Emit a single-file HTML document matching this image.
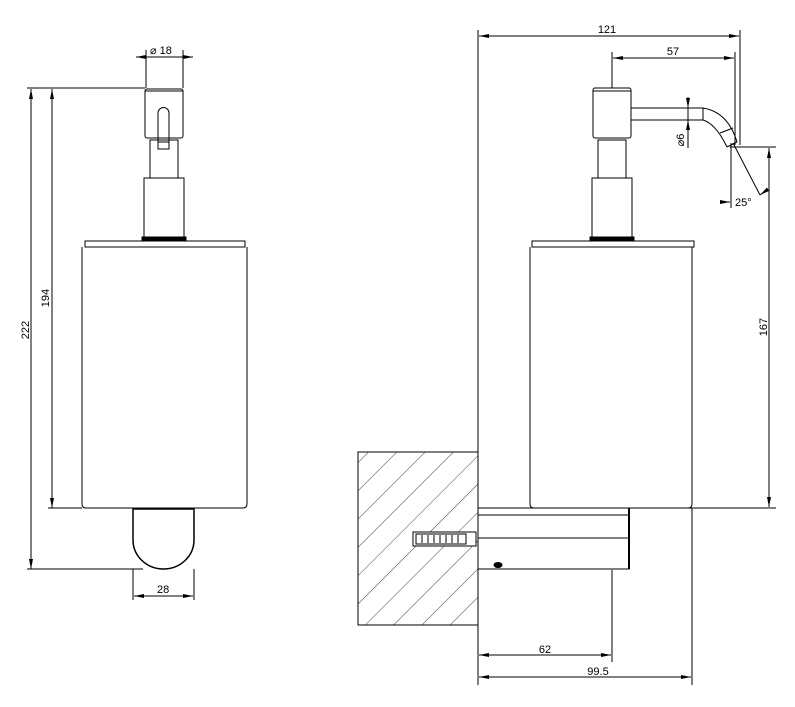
<!DOCTYPE html>
<html><head><meta charset="utf-8"><style>
html,body{margin:0;padding:0;background:#fff;}
svg{display:block;}
text{font-family:"Liberation Sans",sans-serif;font-size:11px;fill:#000;}
</style></head><body>
<svg width="795" height="707" viewBox="0 0 795 707" xmlns="http://www.w3.org/2000/svg">
<defs>
<marker id="a" viewBox="0 0 10 4" refX="10" refY="2" markerWidth="10" markerHeight="4" orient="auto-start-reverse" markerUnits="userSpaceOnUse"><path d="M0,0 L10,2 L0,4 Z" fill="#000"/></marker>
<pattern id="h" patternUnits="userSpaceOnUse" width="20" height="20" patternTransform="rotate(-45)">
<line x1="0" y1="0" x2="20" y2="0" stroke="#000" stroke-width="0.8"/></pattern>
<clipPath id="wc"><rect x="358" y="452" width="120" height="173"/></clipPath>
</defs>
<g fill="none" stroke="#000" stroke-width="1">
<!-- LEFT VIEW -->
<line x1="27" y1="88" x2="145" y2="88"/>
<line x1="31" y1="89" x2="31" y2="569" marker-start="url(#a)" marker-end="url(#a)"/>
<line x1="52" y1="89" x2="52" y2="508" marker-start="url(#a)" marker-end="url(#a)"/>
<line x1="48" y1="508" x2="82" y2="508"/>
<line x1="27" y1="569" x2="143" y2="569"/>
<line x1="146" y1="50" x2="146" y2="88"/><line x1="183" y1="50" x2="183" y2="88"/>
<line x1="136" y1="57" x2="146" y2="57" marker-start="url(#a)"/>
<line x1="146" y1="57" x2="183" y2="57"/>
<line x1="183" y1="57" x2="193" y2="57" marker-end="url(#a)"/>
<rect x="145" y="89" width="38" height="49" rx="2"/>
<line x1="145" y1="91" x2="183" y2="91"/>
<path d="M158,148 V113 a5.5,5.5 0 0 1 11,0 V148"/>
<rect x="158" y="142" width="11" height="7"/>
<rect x="150" y="140" width="28" height="38"/>
<rect x="144" y="178" width="40" height="60"/>
<rect x="142" y="237" width="44" height="4" fill="#000"/>
<rect x="85" y="241" width="160" height="6"/>
<path d="M82,247 V504 q0,4 4,4 H243 q4,0 4,-4 V247"/>
<path d="M133,509 V540 a30.5,29 0 0 0 61,0 V509 Z" stroke-width="1.5"/>
<line x1="133" y1="569" x2="133" y2="600"/><line x1="194" y1="569" x2="194" y2="600"/>
<line x1="134" y1="596" x2="193" y2="596" marker-start="url(#a)" marker-end="url(#a)"/>
<!-- RIGHT VIEW -->
<line x1="478" y1="30" x2="478" y2="685"/>
<line x1="740" y1="30" x2="740" y2="145"/>
<line x1="479" y1="36" x2="739" y2="36" marker-start="url(#a)" marker-end="url(#a)"/>
<line x1="612" y1="52" x2="612" y2="88"/>
<line x1="735" y1="52" x2="735" y2="145"/>
<line x1="613" y1="58" x2="734" y2="58" marker-start="url(#a)" marker-end="url(#a)"/>
<rect x="593" y="88" width="38" height="50" rx="2"/>
<line x1="593" y1="91" x2="631" y2="91"/>
<path d="M631,108 H703 Q728,112 737,142"/>
<path d="M631,120 H703 Q716,124 727,147"/>
<line x1="703" y1="108" x2="703" y2="120"/>
<line x1="720" y1="133" x2="733" y2="128"/>
<line x1="727" y1="147" x2="737" y2="142"/>
<line x1="688" y1="97" x2="688" y2="108" marker-end="url(#a)"/>
<line x1="688" y1="130" x2="688" y2="120" marker-end="url(#a)"/>
<line x1="688" y1="108" x2="688" y2="148"/>
<rect x="598" y="140" width="28" height="38"/>
<rect x="592" y="178" width="40" height="60"/>
<rect x="590" y="237" width="44" height="4" fill="#000"/>
<rect x="532" y="241" width="162" height="6"/>
<path d="M530,247 V504 q0,4 4,4 H688 q4,0 4,-4 V247"/>
<line x1="730" y1="147" x2="776" y2="147"/>
<line x1="478" y1="508" x2="776" y2="508"/>
<line x1="769" y1="148" x2="769" y2="507" marker-start="url(#a)" marker-end="url(#a)"/>
<line x1="731" y1="143" x2="731" y2="208"/>
<line x1="733" y1="143" x2="760" y2="195"/>
<line x1="720" y1="202" x2="730" y2="202" marker-end="url(#a)"/>
<line x1="767" y1="190" x2="760" y2="195" marker-end="url(#a)"/>
<!-- wall -->
<rect x="358" y="452" width="120" height="173" fill="url(#h)" clip-path="url(#wc)" stroke="none"/>
<rect x="358" y="452" width="120" height="173"/>
<!-- bracket -->
<path d="M478,508 H629 V569 H478"/>
<line x1="629" y1="508" x2="629" y2="569" stroke-width="2"/>
<line x1="478" y1="515" x2="629" y2="515"/>
<line x1="478" y1="538" x2="629" y2="538"/>
<ellipse cx="498" cy="565" rx="4" ry="2.5" fill="#000"/>
<rect x="413" y="532" width="63" height="14" fill="#fff"/>
<rect x="416" y="534" width="50" height="10"/>
<path d="M422,535 v8 M428,535 v8 M434,535 v8 M440,535 v8 M446,535 v8 M452,535 v8 M458,535 v8"/>
<line x1="612" y1="570" x2="612" y2="662"/>
<line x1="692" y1="508" x2="692" y2="685"/>
<line x1="479" y1="655" x2="611" y2="655" marker-start="url(#a)" marker-end="url(#a)"/>
<line x1="479" y1="677" x2="691" y2="677" marker-start="url(#a)" marker-end="url(#a)"/>
</g>
<text x="150" y="54">⌀ 18</text>
<text x="157" y="593">28</text>
<text x="29" y="330" transform="rotate(-90 29 330)" text-anchor="middle">222</text>
<text x="49" y="298" transform="rotate(-90 49 298)" text-anchor="middle">194</text>
<text x="607" y="33" text-anchor="middle">121</text>
<text x="673" y="55" text-anchor="middle">57</text>
<text x="684" y="140" transform="rotate(-90 684 140)" text-anchor="middle">⌀6</text>
<text x="735" y="206">25°</text>
<text x="767" y="327" transform="rotate(-90 767 327)" text-anchor="middle">167</text>
<text x="545" y="653" text-anchor="middle">62</text>
<text x="598" y="675" text-anchor="middle">99.5</text>
</svg>
</body></html>
